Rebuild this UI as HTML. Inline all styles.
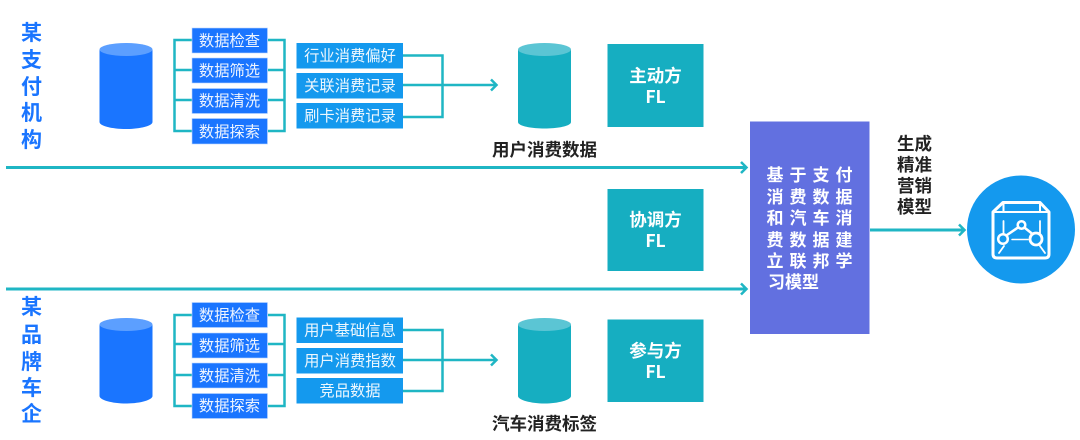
<!DOCTYPE html>
<html><head><meta charset="utf-8"><style>
html,body{margin:0;padding:0;background:#fff}
svg{display:block}
text{font-family:"Liberation Sans","Noto Sans CJK SC",sans-serif}
.w{fill:#fff;font-size:15.300px;text-anchor:middle;font-family:"Noto Sans CJK SC",sans-serif;fill-opacity:.92}
.t{fill:#1a75ff;font-size:21px;font-weight:700;text-anchor:middle;font-family:"Noto Sans CJK SC",sans-serif}
.d{fill:#222;font-size:17.500px;font-weight:700;text-anchor:middle;font-family:"Noto Sans CJK SC",sans-serif}
.f{fill:#fff;font-size:17.500px;font-weight:700;text-anchor:middle;font-family:"Noto Sans CJK SC",sans-serif}
.p{fill:#fff;font-size:17px;font-weight:700;text-anchor:middle;font-family:"Noto Sans CJK SC",sans-serif}
.l{stroke:#1fb6c4;fill:none}
</style></head><body>
<svg width="1080" height="440" viewBox="0 0 1080 440" xmlns="http://www.w3.org/2000/svg">
<rect width="1080" height="440" fill="#fff"/>
<!-- titles -->
<text class="t" x="31.500" y="40">某</text><text class="t" x="31.500" y="67">支</text><text class="t" x="31.500" y="94">付</text><text class="t" x="31.500" y="120">机</text><text class="t" x="31.500" y="147">构</text>
<text class="t" x="31.500" y="314">某</text><text class="t" x="31.500" y="342">品</text><text class="t" x="31.500" y="369">牌</text><text class="t" x="31.500" y="395">车</text><text class="t" x="31.500" y="421">企</text>
<!-- long lines -->
<path class="l" stroke-width="3" d="M6 167.500H746M6 289H746M870 230H964"/>
<path class="l" stroke-width="2.500" d="M741 162l5.500 5.500-5.500 5.500M741 283.500l5.500 5.500-5.500 5.500M959 224.500l5.500 5.500-5.500 5.500"/>
<!-- brackets -->
<path class="l" stroke-width="2.500" d="M192 40H174.500V131H192M174.500 70H192M174.500 100H192M268 40H284.500V131H268M284.500 70H268M284.500 100H268"/>
<path class="l" stroke-width="2.500" d="M192 315H174.500V406H192M174.500 344H192M174.500 375H192M268 315H284.500V406H268M284.500 344H268M284.500 375H268"/>
<path class="l" stroke-width="2.500" d="M403 55.500H442.500V117H403M403 85H496M403 360H496M403 330H442.500V391H403"/>
<path class="l" stroke-width="2.500" d="M491 79.500l5.500 5.500-5.500 5.500M491 354.500l5.500 5.500-5.500 5.500"/>
<!-- cylinders -->
<path fill="#1a75ff" d="M99.500 50V122C99.500 126 112 129 126 129S152.500 126 152.500 122V50Z"/><ellipse cx="126" cy="49.500" rx="26.500" ry="6.500" fill="#5c9fff"/>
<path fill="#1a75ff" d="M99.500 325V396C99.500 400 112 403.500 126 403.500S152.500 400 152.500 396V325Z"/><ellipse cx="126" cy="324.500" rx="26.500" ry="6.500" fill="#5c9fff"/>
<path fill="#16aec1" d="M518 50V122C518 126 531 128.500 544.500 128.500S571 126 571 122V50Z"/><ellipse cx="544.500" cy="49.500" rx="26.500" ry="6.500" fill="#5bc5d4"/>
<path fill="#16aec1" d="M518 325V396C518 400 531 403.500 544.500 403.500S571 400 571 396V325Z"/><ellipse cx="544.500" cy="324.500" rx="26.500" ry="6.500" fill="#5bc5d4"/>
<!-- boxes -->
<g fill="#1a75ff" stroke="#b9d5ff" stroke-width=".6">
<rect x="192" y="28" width="75.500" height="25"/><rect x="192" y="58" width="75.500" height="25"/><rect x="192" y="88.500" width="75.500" height="25"/><rect x="192" y="118.500" width="75.500" height="25.500"/>
<rect x="192" y="302.500" width="75.500" height="25"/><rect x="192" y="333" width="75.500" height="25"/><rect x="192" y="363" width="75.500" height="25"/><rect x="192" y="393.500" width="75.500" height="25"/>
</g>
<g fill="#1499ee">
<rect x="296.500" y="43" width="106.500" height="25.500"/><rect x="296.500" y="73" width="106.500" height="25.500"/><rect x="296.500" y="103" width="106.500" height="25.500"/>
<rect x="296.500" y="317.500" width="106.500" height="25.500"/><rect x="296.500" y="348" width="106.500" height="25.500"/><rect x="296.500" y="378" width="106.500" height="25.500"/>
</g>
<text class="w" x="229.500" y="46">数据检查</text><text class="w" x="229.500" y="76">数据筛选</text><text class="w" x="229.500" y="106">数据清洗</text><text class="w" x="229.500" y="137">数据探索</text>
<text class="w" x="229.500" y="320.500">数据检查</text><text class="w" x="229.500" y="351">数据筛选</text><text class="w" x="229.500" y="381">数据清洗</text><text class="w" x="229.500" y="411">数据探索</text>
<text class="w" x="350" y="61">行业消费偏好</text><text class="w" x="350" y="91">关联消费记录</text><text class="w" x="350" y="121">刷卡消费记录</text>
<text class="w" x="350" y="335.500">用户基础信息</text><text class="w" x="350" y="366">用户消费指数</text><text class="w" x="350" y="396">竞品数据</text>
<!-- FL boxes -->
<g fill="#16aec1"><rect x="607.500" y="44" width="96" height="83"/><rect x="607.500" y="189" width="96" height="82"/><rect x="607.500" y="319.500" width="96" height="82.500"/></g>
<text class="f" x="655.500" y="82">主动方</text><text class="f" x="655.500" y="103">FL</text>
<text class="f" x="655.500" y="226">协调方</text><text class="f" x="655.500" y="247">FL</text>
<text class="f" x="655.500" y="357">参与方</text><text class="f" x="655.500" y="378">FL</text>
<text class="d" x="544.500" y="156">用户消费数据</text>
<text class="d" x="544.500" y="430">汽车消费标签</text>
<!-- purple -->
<rect x="750" y="121.500" width="119.500" height="212.500" fill="#6270e0"/>
<text class="p" x="775" y="181">基</text><text class="p" x="798" y="181">于</text><text class="p" x="821" y="181">支</text><text class="p" x="844" y="181">付</text>
<text class="p" x="775" y="203">消</text><text class="p" x="798" y="203">费</text><text class="p" x="821" y="203">数</text><text class="p" x="844" y="203">据</text>
<text class="p" x="775" y="224">和</text><text class="p" x="798" y="224">汽</text><text class="p" x="821" y="224">车</text><text class="p" x="844" y="224">消</text>
<text class="p" x="775" y="246">费</text><text class="p" x="798" y="246">数</text><text class="p" x="821" y="246">据</text><text class="p" x="844" y="246">建</text>
<text class="p" x="775" y="267">立</text><text class="p" x="798" y="267">联</text><text class="p" x="821" y="267">邦</text><text class="p" x="844" y="267">学</text>
<text class="p" x="793.500" y="288">习模型</text>
<text class="d" x="914.500" y="150">生成</text><text class="d" x="914.500" y="171">精准</text><text class="d" x="914.500" y="192">营销</text><text class="d" x="914.500" y="213">模型</text>
<!-- circle -->
<circle cx="1021" cy="229.500" r="54" fill="#1499ee"/>
<g fill="none" stroke="#fff" stroke-linejoin="round" stroke-linecap="round">
<path stroke-width="3" d="M1003 202.500H1040L1049 212V254Q1049 258 1045 258H997Q993 258 993 254V212Z"/>
<path stroke-width="2" d="M993 212H1049M1003.500 203V212M1040 203V212"/>
<path stroke-width="1.800" d="M1003.500 221V233M1040 221V233M999 253L1004 246M1045 253L1040 246"/>
<path stroke-width="2.500" d="M1007 235L1018 227.500M1025 228L1032.500 234"/>
<path stroke-width="1.500" d="M1012 239.500H1028"/>
<circle cx="1003" cy="239" r="4.800" stroke-width="2.500"/><circle cx="1021.500" cy="225" r="3.800" stroke-width="2.500"/><circle cx="1036" cy="239" r="6" stroke-width="2.800"/>
</g>
</svg>
</body></html>
